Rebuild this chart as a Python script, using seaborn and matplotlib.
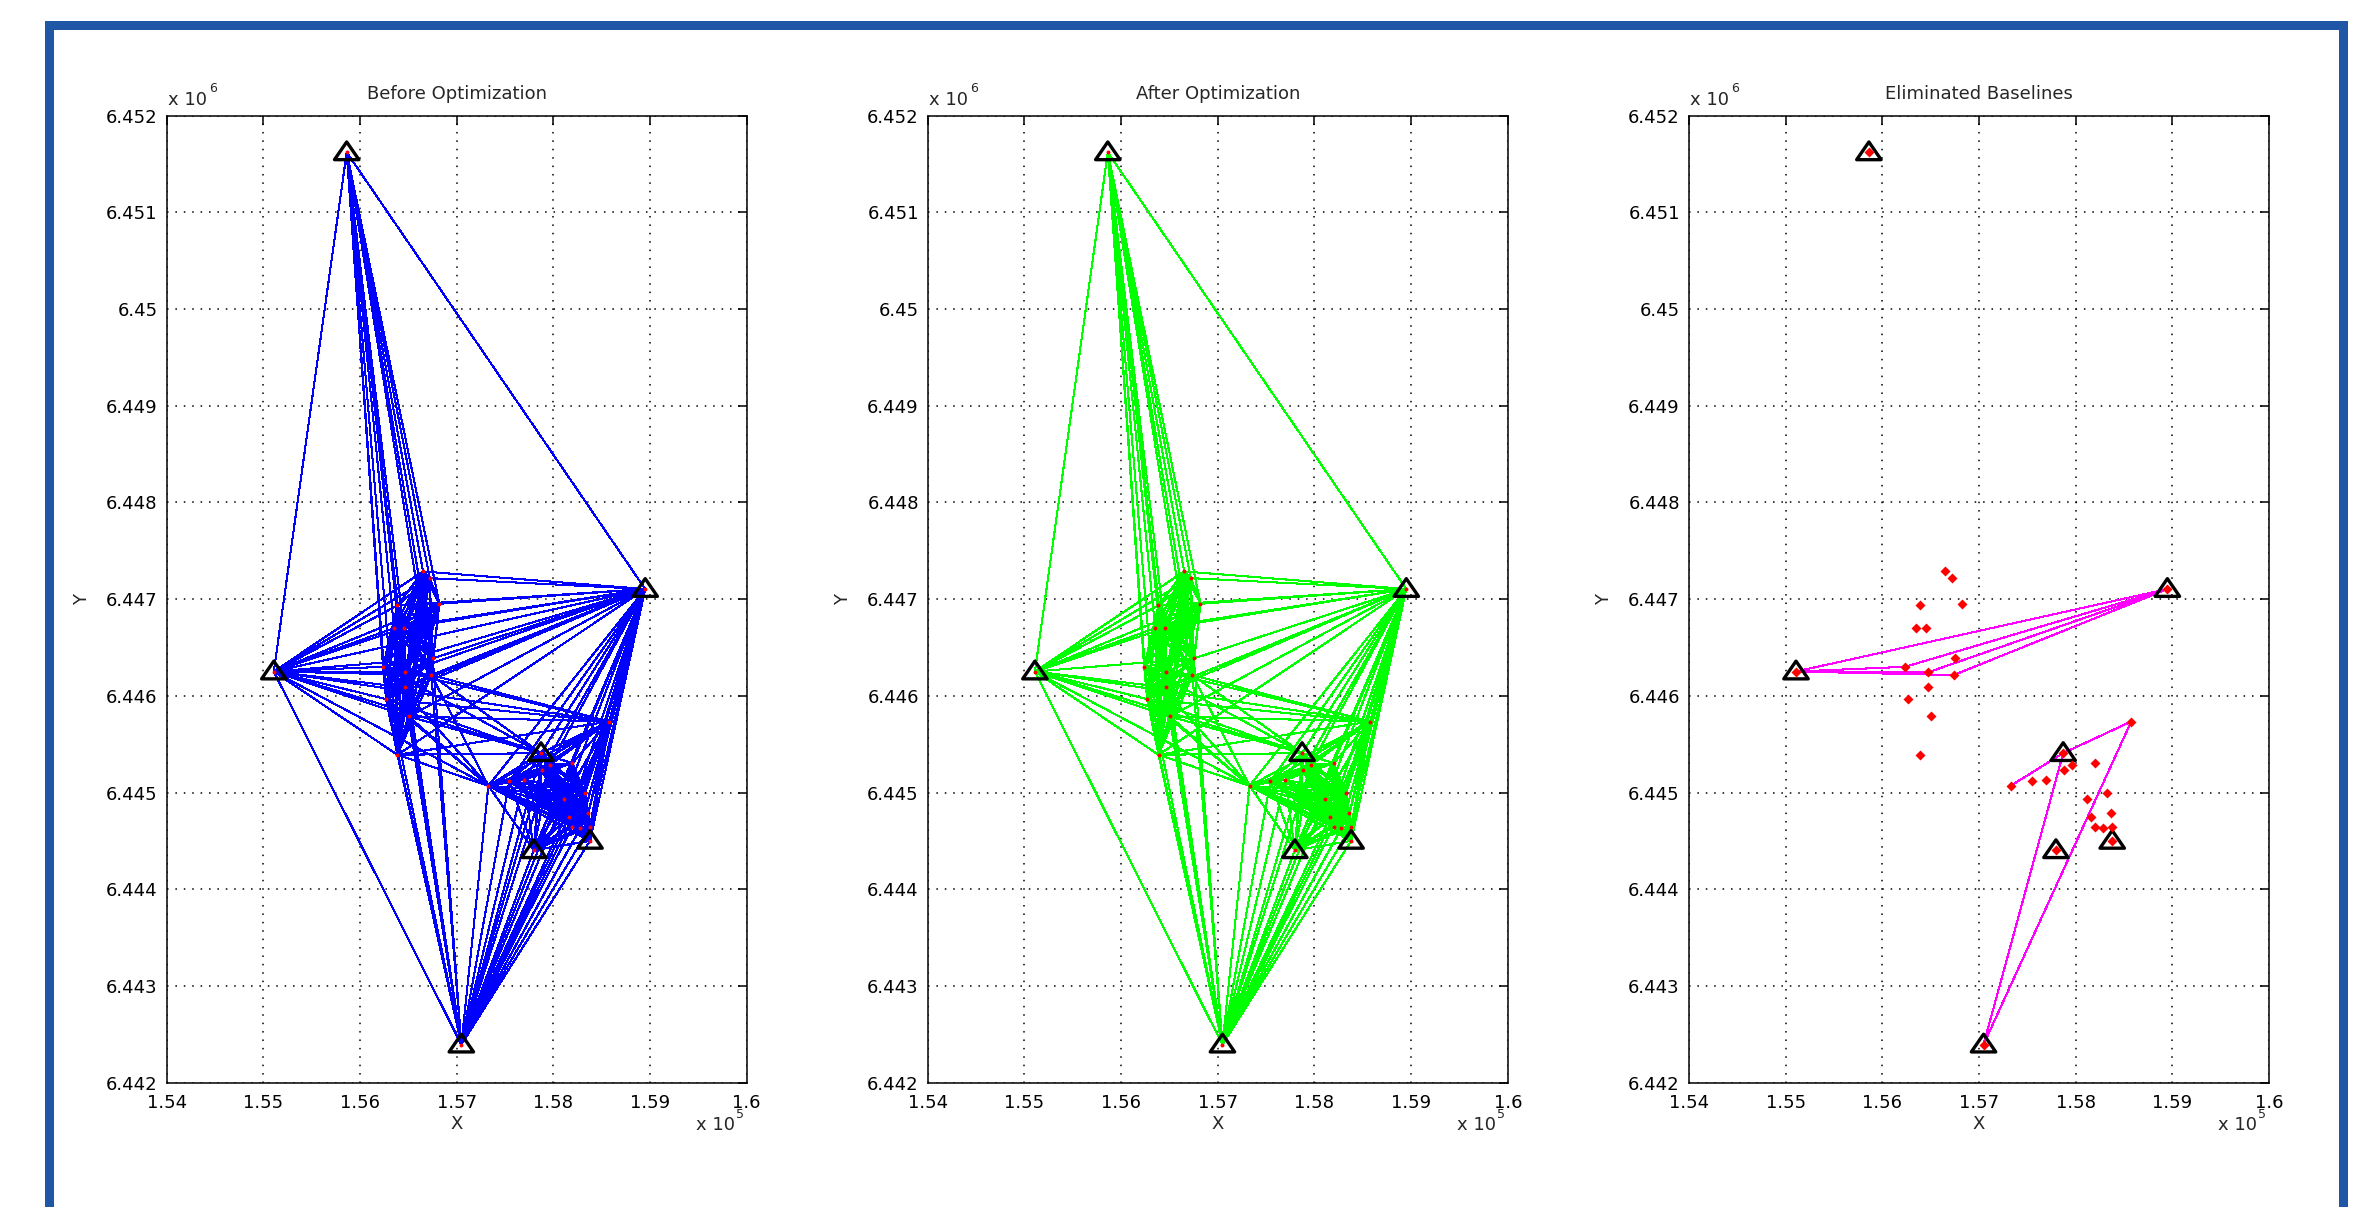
import numpy as np
import pandas as pd
import matplotlib
matplotlib.use("Agg")
import matplotlib.pyplot as plt
import seaborn as sns
from matplotlib.path import Path
from matplotlib.patches import Rectangle
from itertools import combinations

# ---------------- data ----------------
# control stations (drawn as triangles), coordinates in metres
station_names = ["T1", "T2", "T3", "T4", "T5", "T6", "T7"]
station_x = [155862, 155108, 158950, 157872, 157797, 158379, 157048]
station_y = [6451620, 6446251, 6447104, 6445407, 6444403, 6444500, 6442393]

# network points
point_names = ["P%02d" % i for i in range(1, 29)]
point_x = [156652, 156721, 156386, 156821, 156352, 156452, 156752, 156238,
           156469, 156738, 156469, 156269, 156503, 156387,
           158576, 157328, 157545, 157697, 157879, 157966, 158197, 158328,
           158114, 158362, 158162, 158197, 158279, 158379]
point_y = [6447286, 6447217, 6446934, 6446952, 6446700, 6446700, 6446386, 6446300,
           6446241, 6446214, 6446086, 6445966, 6445786, 6445390,
           6445734, 6445069, 6445117, 6445131, 6445231, 6445286, 6445303, 6445000,
           6444931, 6444786, 6444748, 6444648, 6444631, 6444648]

west = ["P01", "P02", "P03", "P04", "P05", "P06", "P07", "P08", "P09", "P10",
        "P11", "P12", "P13", "P14"]
east = ["P15", "P16", "P17", "P18", "P19", "P20", "P21", "P22", "P23", "P24",
        "P25", "P26", "P27", "P28"]

# observing sessions: every pair of receivers in a session is a baseline
sessions = [
    ["T1"] + west,
    ["T2", "T3"] + west,
    ["T7", "P05", "P07", "P08", "P09", "P10", "P11", "P12", "P13", "P14"],
    ["T3", "T4", "T5", "T6"] + east,
    ["T7", "T4", "T5", "T6"] + east,
    ["T2", "T4", "P15", "P16", "P08", "P10", "P12", "P13", "P14"],
]
extra_baselines = [("T1", "T2"), ("T1", "T3"), ("T2", "T7")]

# baselines removed by the optimisation
eliminated = [("T2", "T3"), ("T2", "P08"), ("T2", "P09"), ("T2", "P10"),
              ("P08", "T3"), ("P09", "T3"), ("P10", "T3"),
              ("P16", "T4"), ("T4", "P15"), ("T7", "T4"), ("T7", "P15")]

x_ticks = [154000, 155000, 156000, 157000, 158000, 159000, 160000]
x_ticklabels = ["1.54", "1.55", "1.56", "1.57", "1.58", "1.59", "1.6"]
y_ticks = [6442000, 6443000, 6444000, 6445000, 6446000, 6447000,
           6448000, 6449000, 6450000, 6451000, 6452000]
y_ticklabels = ["6.442", "6.443", "6.444", "6.445", "6.446", "6.447",
                "6.448", "6.449", "6.45", "6.451", "6.452"]
titles = ["Before Optimization", "After Optimization", "Eliminated Baselines"]

# ---------------- build tables ----------------
names = station_names + point_names
coords = {n: (x, y) for n, x, y in zip(names, station_x + point_x, station_y + point_y)}

all_baselines = []
seen = set()
for sess in sessions:
    for a, b in combinations(sess, 2):
        k = frozenset((a, b))
        if k not in seen:
            seen.add(k)
            all_baselines.append((a, b))
for a, b in extra_baselines:
    k = frozenset((a, b))
    if k not in seen:
        seen.add(k)
        all_baselines.append((a, b))

elim_keys = {frozenset(p) for p in eliminated}
kept = [p for p in all_baselines if frozenset(p) not in elim_keys]


def edge_frame(pairs):
    rows = []
    for i, (a, b) in enumerate(pairs):
        rows.append((i, coords[a][0], coords[a][1]))
        rows.append((i, coords[b][0], coords[b][1]))
    return pd.DataFrame(rows, columns=["edge", "x", "y"])


pts = pd.DataFrame({"name": names, "x": station_x + point_x, "y": station_y + point_y})
sta = pd.DataFrame({"name": station_names, "x": station_x, "y": station_y})

# ---------------- figure ----------------
sns.set_style("white")
plt.rcParams["font.family"] = ["DejaVu Sans"]

W, H = 2362, 1207
fig = plt.figure(figsize=(W / 100, H / 100), dpi=100)
fig.patch.set_facecolor("white")

frame_col = "#1f57a6"
for (x0, y0, w, h) in [(45, 21, 2303, 9), (45, 21, 9, 1186), (2339, 21, 9, 1186)]:
    fig.add_artist(Rectangle((x0 / W, 1 - (y0 + h) / H), w / W, h / H,
                             transform=fig.transFigure, color=frame_col, lw=0))

ax_w, ax_h = 580 / W, 967 / H
ax_b = (H - 1082.6) / H
lefts = [166.7 / W, 927.8 / W, 1688.9 / W]

tri = Path([(0, 0.85), (-1.0, -0.6), (1.0, -0.6), (0, 0.85)],
           [Path.MOVETO, Path.LINETO, Path.LINETO, Path.CLOSEPOLY])

panels = [(all_baselines, "#0000ff"), (kept, "#00ff00"), (eliminated, "#ff00ff")]

for i, (pairs, col) in enumerate(panels):
    ax = fig.add_axes([lefts[i], ax_b, ax_w, ax_h])
    ef = edge_frame(pairs)
    sns.lineplot(data=ef, x="x", y="y", units="edge", estimator=None, sort=False,
                 color=col, lw=0.75, antialiased=False, ax=ax, zorder=2)
    ax.scatter(sta["x"], sta["y"], marker=tri, s=310, facecolors="none",
               edgecolors="black", linewidths=2.4, zorder=4)
    if i < 2:
        sns.scatterplot(data=pts, x="x", y="y", color="red", s=8, linewidth=0,
                        marker="o", ax=ax, zorder=5)
    else:
        sns.scatterplot(data=pts, x="x", y="y", color="red", s=26, linewidth=0,
                        marker="D", ax=ax, zorder=5)

    ax.set_xlim(154000, 160000)
    ax.set_ylim(6442000, 6452000)
    ax.set_xticks(x_ticks)
    ax.set_xticklabels(x_ticklabels)
    ax.set_yticks(y_ticks)
    ax.set_yticklabels(y_ticklabels)
    ax.grid(True, color="black", linestyle=(0, (1, 4.5)), linewidth=1.1)
    ax.set_axisbelow(True)
    ax.tick_params(direction="in", length=6.5, width=1.1, top=True, right=True,
                   labelsize=13, colors="black")
    ax.tick_params(axis="y", pad=6.5)
    ax.tick_params(axis="x", pad=8)
    for s in ax.spines.values():
        s.set_linewidth(1.1)
        s.set_color("black")
        s.set_visible(True)
    ax.set_title(titles[i], fontsize=13, pad=12)
    ax.set_xlabel("X", fontsize=13)
    ax.xaxis.set_label_coords(0.5, -0.0335)
    ax.set_ylabel("Y", fontsize=13)
    ax.yaxis.set_label_coords(-0.1305, 0.5)

    ax.annotate("x 10", xy=(0, 1), xycoords="axes fraction", xytext=(1.5, 10.5),
                textcoords="offset pixels", ha="left", va="baseline", fontsize=13)
    ax.annotate("6", xy=(0, 1), xycoords="axes fraction", xytext=(42, 23.5),
                textcoords="offset pixels", ha="left", va="baseline", fontsize=9)
    ax.annotate("x 10", xy=(1, 0), xycoords="axes fraction", xytext=(-51, -47.5),
                textcoords="offset pixels", ha="left", va="baseline", fontsize=13)
    ax.annotate("5", xy=(1, 0), xycoords="axes fraction", xytext=(-11, -35),
                textcoords="offset pixels", ha="left", va="baseline", fontsize=9)

fig.savefig("out.png", dpi=100, facecolor="white")
